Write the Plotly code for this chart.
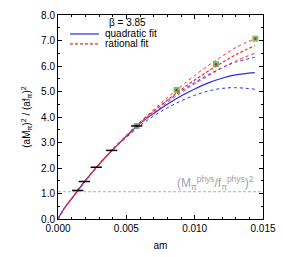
import plotly.graph_objects as go

# data points (black, with errors)
am_pts = [0.00144, 0.00193, 0.0028, 0.00393, 0.00576]
y_pts = [1.12, 1.47, 2.03, 2.69, 3.65]
y_err = [0.03, 0.03, 0.03, 0.03, 0.04]

# green points (not in fit)
am_grn = [0.00868, 0.01156, 0.01444]
y_grn = [5.06, 6.07, 7.07]

# fit curves
am_fit = [0.0, 0.0005, 0.001, 0.002, 0.003, 0.004, 0.005, 0.006, 0.007, 0.008,
          0.009, 0.010, 0.011, 0.012, 0.013, 0.0144]
quad_c = [0.0, 0.45, 0.80, 1.50, 2.14, 2.72, 3.24, 3.74, 4.14, 4.50, 4.82, 5.10, 5.34, 5.52, 5.65, 5.74]
quad_lo = [0.0, 0.45, 0.80, 1.50, 2.13, 2.70, 3.20, 3.66, 4.04, 4.36, 4.63, 4.85, 5.02, 5.12, 5.15, 5.09]
quad_hi = [0.0, 0.45, 0.80, 1.50, 2.15, 2.74, 3.28, 3.80, 4.24, 4.64, 5.01, 5.35, 5.66, 5.93, 6.15, 6.34]
rat_c = [0.0, 0.45, 0.80, 1.50, 2.14, 2.72, 3.25, 3.76, 4.22, 4.66, 5.07, 5.45, 5.80, 6.13, 6.44, 6.80]
rat_lo = [0.0, 0.45, 0.80, 1.50, 2.14, 2.71, 3.23, 3.73, 4.16, 4.57, 4.95, 5.30, 5.62, 5.92, 6.20, 6.50]
rat_hi = [0.0, 0.45, 0.80, 1.50, 2.15, 2.73, 3.27, 3.80, 4.29, 4.76, 5.20, 5.63, 6.02, 6.38, 6.72, 7.07]

phys_ratio = 1.07
x_range = [0.0, 0.015]
y_range = [0.0, 8.0]
legend_title = "β = 3.85"
legend_names = ["quadratic fit", "rational fit"]

BLUE = "#2a2aee"
RED = "#ee2a2a"
FONT = "Liberation Sans"

fig = go.Figure()

# physical line
fig.add_trace(go.Scatter(x=x_range, y=[phys_ratio, phys_ratio], mode="lines",
                         line=dict(color="#b0b0b0", width=1, dash="3px,2px"),
                         showlegend=False, hoverinfo="skip"))

for ys, dash, width in [(quad_lo, "dot", 1), (quad_hi, "dot", 1), (quad_c, "solid", 1.2)]:
    fig.add_trace(go.Scatter(x=am_fit, y=ys, mode="lines", line_shape="spline",
                             line=dict(color=BLUE, width=width, dash=dash), showlegend=False))

for ys, dash, width in [(rat_lo, "dot", 1), (rat_hi, "dot", 1), (rat_c, "3px,2px", 1.2)]:
    fig.add_trace(go.Scatter(x=am_fit, y=ys, mode="lines", line_shape="spline",
                             line=dict(color=RED, width=width, dash=dash), showlegend=False))

# green points
fig.add_trace(go.Scatter(x=am_grn, y=y_grn, mode="markers",
                         marker=dict(symbol="square", size=6, color="rgba(60,180,60,0.75)",
                                     line=dict(width=0)),
                         showlegend=False))
fig.add_trace(go.Scatter(x=am_grn, y=y_grn, mode="markers",
                         marker=dict(symbol="circle", size=2.5, color="#cc2222"),
                         showlegend=False))

# square for last fitted point
fig.add_trace(go.Scatter(x=am_pts[-1:], y=y_pts[-1:], mode="markers",
                         marker=dict(symbol="square", size=6, color="rgba(120,140,120,0.8)"),
                         showlegend=False))

# black data points
fig.add_trace(go.Scatter(x=am_pts, y=y_pts, mode="markers",
                         marker=dict(symbol="line-ew", size=8, color="black",
                                     line=dict(width=1.5, color="black")),
                         error_y=dict(type="data", array=y_err, color="black", thickness=1, width=0),
                         showlegend=False))

fig.add_annotation(x=0.0145, y=phys_ratio, xref="x", yref="y", xanchor="right", yanchor="bottom",
                   text="(M<sub>π</sub><sup>phys</sup>/f<sub>π</sub><sup>phys</sup>)<sup>2</sup>",
                   showarrow=False, font=dict(color="#a0a0a0", size=12, family=FONT), yshift=-2)

# manual legend
fig.add_annotation(x=0.337, y=0.961, xref="paper", yref="paper", xanchor="center", yanchor="middle",
                   text=legend_title, showarrow=False, font=dict(size=10, family=FONT))
for i, (name, color, dash) in enumerate(zip(legend_names, [BLUE, RED], ["solid", "3px,2px"])):
    yy = 0.907 - i * 0.049
    fig.add_shape(type="line", xref="paper", yref="paper", x0=0.0585, x1=0.2, y0=yy, y1=yy,
                  line=dict(color=color, width=1.2, dash=dash))
    fig.add_annotation(x=0.221, y=yy, xref="paper", yref="paper", xanchor="left", yanchor="middle",
                       text=name, showarrow=False, font=dict(size=10, family=FONT))

axis_common = dict(showgrid=False, zeroline=False, showline=True, linecolor="black", linewidth=1,
                   mirror="ticks", ticks="inside", ticklen=4, tickcolor="black", automargin=False,
                   tickfont=dict(size=10, family=FONT, color="black"))

fig.update_xaxes(range=x_range, dtick=0.005, tickformat=".3f",
                 minor=dict(dtick=0.001, ticks="inside", ticklen=2, tickcolor="black"),
                 title=dict(text="am", font=dict(size=10, family=FONT), standoff=8),
                 **axis_common)
fig.update_yaxes(range=y_range, dtick=1, tickformat=".1f",
                 minor=dict(dtick=0.5, ticks="inside", ticklen=2, tickcolor="black"),
                 title=dict(text="(aM<sub>π</sub>)<sup>2</sup> / (af<sub>π</sub>)<sup>2</sup>",
                            font=dict(size=10, family=FONT), standoff=8),
                 **axis_common)

fig.update_layout(
    width=283, height=257,
    margin=dict(l=58, r=20, t=15, b=38),
    paper_bgcolor="white", plot_bgcolor="white",
    font=dict(family=FONT, size=10, color="black"),
    showlegend=False,
)

fig.write_html("out.html", config={"displayModeBar": False},
               post_script="document.body.style.margin='0';")
